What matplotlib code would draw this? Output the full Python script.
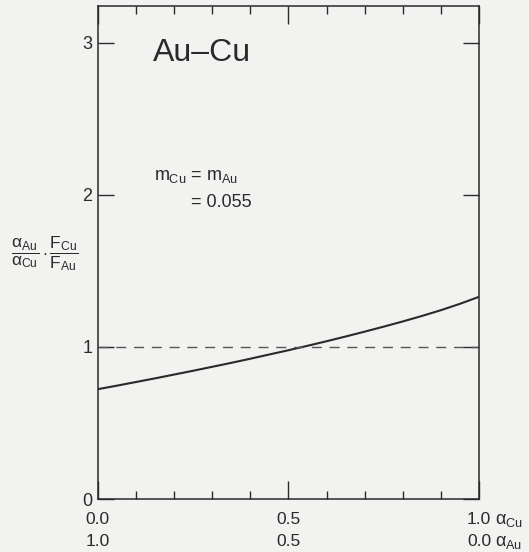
import matplotlib
matplotlib.use("Agg")
import matplotlib.pyplot as plt
from matplotlib.ticker import MultipleLocator

plt.rcParams['font.family'] = ['Liberation Sans', 'DejaVu Sans']
plt.rcParams['mathtext.fontset'] = 'custom'
plt.rcParams['mathtext.rm'] = 'Liberation Sans'
plt.rcParams['mathtext.it'] = 'Liberation Sans'
plt.rcParams['mathtext.bf'] = 'Liberation Sans'
plt.rcParams['mathtext.sf'] = 'Liberation Sans'

# data
x_cu = [0.00, 0.05, 0.10, 0.15, 0.20, 0.25, 0.30, 0.35, 0.40, 0.45, 0.50,
        0.55, 0.60, 0.65, 0.70, 0.75, 0.80, 0.85, 0.90, 0.95, 1.00]
ratio = [0.722, 0.745, 0.769, 0.793, 0.818, 0.843, 0.869, 0.895, 0.922, 0.950,
         0.978, 1.007, 1.037, 1.068, 1.100, 1.133, 1.167, 1.203, 1.241, 1.283,
         1.329]
ref_level = 1.0
xtick_pos = [0.0, 0.5, 1.0]
xtick_row1 = ["0.0", "0.5", "1.0"]   # alpha_Cu
xtick_row2 = ["1.0", "0.5", "0.0"]   # alpha_Au
ytick_pos = [0, 1, 2, 3]

ink = '#2a2a2a'
bg = '#f2f2f1'

fig = plt.figure(figsize=(5.29, 5.52), dpi=100, facecolor=bg)
ax = fig.add_axes([0.185, 0.096, 0.7205, 0.893])
ax.set_facecolor(bg)

ax.plot(x_cu, ratio, color=ink, lw=1.5, solid_capstyle='butt')
ax.axhline(ref_level, color='#555555', lw=1.0, dashes=(7.2, 5.6))

ax.set_xlim(0, 1)
ax.set_ylim(0, 3.24)

ax.set_xticks(xtick_pos)
ax.set_xticklabels([])
ax.xaxis.set_minor_locator(MultipleLocator(0.1))
ax.set_yticks(ytick_pos)
ax.set_yticklabels([str(v) for v in ytick_pos], fontsize=13, color=ink)

ax.tick_params(axis='x', which='major', direction='in', length=13, width=1.0,
               top=True, bottom=True, colors=ink)
ax.tick_params(axis='x', which='minor', direction='in', length=5.8, width=1.0,
               top=True, bottom=True, colors=ink)
ax.tick_params(axis='y', which='major', direction='in', length=11.5, width=1.0,
               left=True, right=True, pad=4, colors=ink)

for s in ax.spines.values():
    s.set_linewidth(1.1)
    s.set_color(ink)

# two rows of x tick labels
xt = ax.get_xaxis_transform()
for xp, l1, l2 in zip(xtick_pos, xtick_row1, xtick_row2):
    ax.annotate(l1, xy=(xp, 0), xycoords=xt, xytext=(0, -25),
                textcoords='offset pixels', ha='center', va='baseline',
                fontsize=12.5, color=ink, annotation_clip=False)
    ax.annotate(l2, xy=(xp, 0), xycoords=xt, xytext=(0, -47),
                textcoords='offset pixels', ha='center', va='baseline',
                fontsize=12.5, color=ink, annotation_clip=False)

# axis-name labels at the right end of the x axis
ax.annotate(r'$\alpha_{Cu}$', xy=(1, 0), xycoords=xt, xytext=(16, -25),
            textcoords='offset pixels', ha='left', va='baseline',
            fontsize=13, color=ink, annotation_clip=False)
ax.annotate(r'$\alpha_{Au}$', xy=(1, 0), xycoords=xt, xytext=(16, -47),
            textcoords='offset pixels', ha='left', va='baseline',
            fontsize=13, color=ink, annotation_clip=False)

# y label
fig.text(45/529, 1 - 254/552,
         r'$\dfrac{\alpha_{Au}}{\alpha_{Cu}}\cdot\dfrac{F_{Cu}}{F_{Au}}$',
         fontsize=12.5, color=ink, ha='center', va='center')

# annotations
ax.text(0.145, 2.93, 'Au–Cu', fontsize=23, color=ink, ha='left', va='center')
ax.text(0.147, 2.10, r'$m_{Cu}$ = $m_{Au}$', fontsize=13, color=ink,
        ha='left', va='baseline')
ax.text(0.245, 1.92, '= 0.055', fontsize=13, color=ink, ha='left', va='baseline')

fig.savefig('out.png', dpi=100, facecolor=bg)
